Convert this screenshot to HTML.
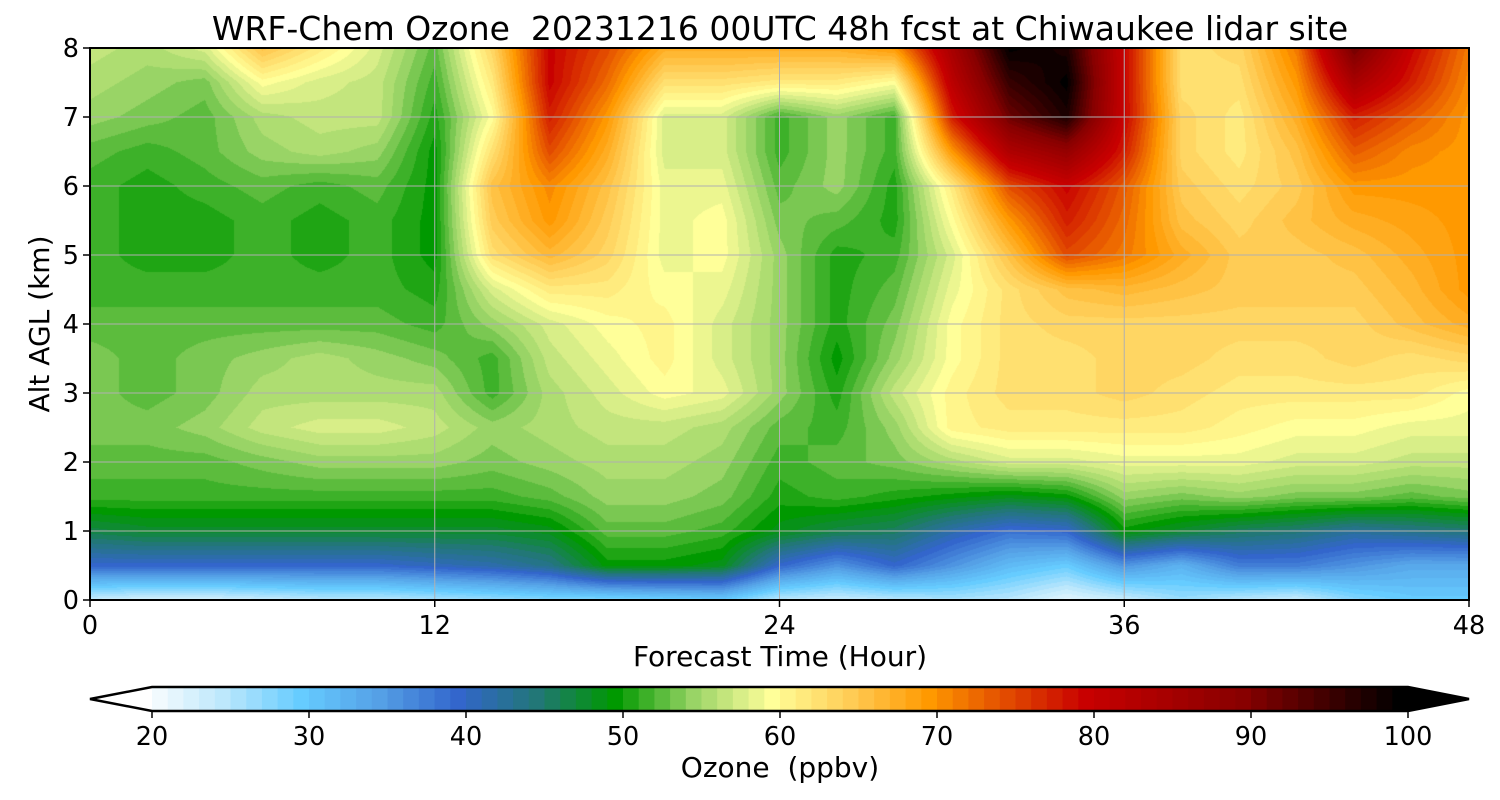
<!DOCTYPE html>
<html><head><meta charset="utf-8">
<style>
html,body{margin:0;padding:0;background:#fff;}
#wrap{position:relative;width:1500px;height:800px;overflow:hidden;font-family:"DejaVu Sans",sans-serif;}
#heat{position:absolute;left:90px;top:48px;}
#ov{position:absolute;left:0;top:0;}
text{font-family:"DejaVu Sans","Liberation Sans",sans-serif;fill:#000;white-space:pre;}
</style></head>
<body>
<div id="wrap">
<canvas id="heat" width="1379" height="552"></canvas>
<svg id="ov" width="1500" height="800">
<text x="780" y="40" text-anchor="middle" font-size="33" xml:space="preserve">WRF-Chem Ozone  20231216 00UTC 48h fcst at Chiwaukee lidar site</text>
<g id="grid"></g>
<rect x="90" y="48" width="1379" height="552" fill="none" stroke="#000" stroke-width="2"/>
<g id="xticks"></g>
<g id="yticks"></g>
<text x="780" y="666" text-anchor="middle" font-size="28">Forecast Time (Hour)</text>
<text transform="translate(49,324) rotate(-90)" text-anchor="middle" font-size="28">Alt AGL (km)</text>
<g id="cbar"></g>
<text x="780" y="777" text-anchor="middle" font-size="28" xml:space="preserve">Ozone  (ppbv)</text>
</svg>
</div>
<script>
const hours = [0,2,4,6,8,10,12,14,16,18,20,22,24,26,28,30,32,34,36,38,40,42,44,46,48];
const heights = [0,0.5,1,1.5,2,2.5,3,3.5,4,4.5,5,5.5,6,6.5,7,7.5,8];
const ozone = [
[24,23,23,24,25,25,26,27,28,28,29,30,25,24,25,26,25,22,24,27,25,24,28,30,30],
[40,40,40,40,40,40,41,42,44,50,50,49,40,36,40,36,32,30,36,33,38,38,36,34,34],
[47,48,48,48,48,48,48,48,49,53,53,52,49,47,46,42,39,40,50,48,46,45,43,44,45],
[52,52,52,52,52,52,52,52,53,55,55,54,51,52,51,50,49,50,55,54,55,54,54,53,54],
[53,53,53,54,55,55,55,54,55,56,56,55,52,53,54,56,58,58,59,59,59,58,58,57,57],
[54,54,55,57,58,58,57,55,56,57,57,56,53,52,55,61,62,62,62,62,61,60,60,59,59],
[54,53,54,56,56,56,56,52,56,58,60,59,55,51,57,61,63,63,64,63,62,62,62,62,60],
[54,53,54,55,56,55,54,52,57,59,61,58,55,50,55,60,63,63,64,64,63,63,64,63,64],
[53,53,53,53,53,53,52,55,58,60,61,58,55,51,54,60,63,64,64,64,64,64,64,66,68],
[52,52,52,52,52,52,51,58,62,62,60,59,55,51,53,59,63,66,67,66,65,65,65,67,70],
[52,51,51,52,51,52,50,63,67,64,59,60,55,51,52,58,66,75,72,68,65,65,66,68,70],
[52,51,51,52,51,52,50,65,70,65,59,60,54,53,51,60,70,78,73,66,64,66,68,69,70],
[52,51,52,53,52,53,50,66,71,66,59,59,53,55,51,62,75,80,74,65,63,65,70,70,70],
[53,52,53,55,56,55,50,63,75,68,58,58,52,55,52,70,84,88,78,64,62,66,74,71,70],
[55,54,53,56,57,57,51,60,78,70,58,58,52,55,52,78,92,98,80,64,62,68,78,74,70],
[56,55,54,60,58,57,52,62,80,73,63,63,62,62,60,82,96,100,80,63,63,70,85,78,71],
[57,56,58,66,62,58,53,64,80,75,68,68,68,68,70,85,100,98,80,63,64,72,92,80,72]
];
const xTickLabels = [0,12,24,36,48];
const yTickLabels = [0,1,2,3,4,5,6,7,8];
const cbarTicks = [20,30,40,50,60,70,80,90,100];
const cmapVals = [20,25,30,35,40,45,50,55,58,60,65,70,75,80,90,100];
const cmapCols = ['#ffffff','#bde8fc','#66ccff','#55a0e6','#3366cc','#227777','#009900','#99d466','#d8ee88','#ffff99','#ffcc55','#ff9900','#e24a00','#c80000','#880000','#000000'];

const X0=90,X1=1469,Y0=48,Y1=600;
const xs = h => X0+(h-0)/48*(X1-X0);
const ys = k => Y1-(k-0)/8*(Y1-Y0);
function hex(c){return [parseInt(c.slice(1,3),16),parseInt(c.slice(3,5),16),parseInt(c.slice(5,7),16)];}
const cmapRGB = cmapCols.map(hex);
function color(v){
  v=Math.round(v);
  if(v<=cmapVals[0]) return cmapRGB[0];
  for(let i=1;i<cmapVals.length;i++){
    if(v<=cmapVals[i]){const t=(v-cmapVals[i-1])/(cmapVals[i]-cmapVals[i-1]);const a=cmapRGB[i-1],b=cmapRGB[i];return [a[0]+(b[0]-a[0])*t,a[1]+(b[1]-a[1])*t,a[2]+(b[2]-a[2])*t];}
  }
  return cmapRGB[cmapRGB.length-1];
}
function interp(arr,v){
  if(v<=arr[0]) return [0,0];
  for(let i=1;i<arr.length;i++) if(v<=arr[i]) return [i-1,(v-arr[i-1])/(arr[i]-arr[i-1])];
  return [arr.length-2,1];
}
const cv=document.getElementById('heat'),ctx=cv.getContext('2d');
const W=cv.width,H=cv.height,img=ctx.createImageData(W,H);
for(let py=0;py<H;py++){
  const km=(H-py-0.5)/H*8; const [j,fy]=interp(heights,km);
  for(let px=0;px<W;px++){
    const hr=(px+0.5)/W*48; const [i,fx]=interp(hours,hr);
    const v=ozone[j][i]*(1-fx)*(1-fy)+ozone[j][i+1]*fx*(1-fy)+ozone[j+1][i]*(1-fx)*fy+ozone[j+1][i+1]*fx*fy;
    const c=color(v); const o=(py*W+px)*4;
    img.data[o]=c[0];img.data[o+1]=c[1];img.data[o+2]=c[2];img.data[o+3]=255;
  }
}
ctx.putImageData(img,0,0);
const NS='http://www.w3.org/2000/svg';
function mk(tag,attrs,parent){const e=document.createElementNS(NS,tag);for(const k in attrs)e.setAttribute(k,attrs[k]);parent.appendChild(e);return e;}
const grid=document.getElementById('grid'),xt=document.getElementById('xticks'),yt=document.getElementById('yticks');
xTickLabels.forEach(h=>{
  const x=xs(h);
  const g=mk('line',{x1:x,x2:x,y1:Y0,y2:Y1,stroke:'#b0b0b0','stroke-width':1},grid);
  
  
  const tk=mk('line',{x1:x,x2:x,y1:Y1,y2:Y1+7,stroke:'#000','stroke-width':1.5},xt);
  
  
  const t=mk('text',{x:x,y:Y1+34,'text-anchor':'middle','font-size':25.5},xt);t.textContent=h;
  
  
});
yTickLabels.forEach(k=>{
  const y=ys(k);
  const g=mk('line',{x1:X0,x2:X1,y1:y,y2:y,stroke:'#b0b0b0','stroke-width':1},grid);
  
  
  const tk=mk('line',{x1:X0-7,x2:X0,y1:y,y2:y,stroke:'#000','stroke-width':1.5},yt);
  
  
  const t=mk('text',{x:X0-11,y:y+9,'text-anchor':'end','font-size':25.5},yt);t.textContent=k;
  
  
});
const cb=document.getElementById('cbar');
const C0=152,C1=1408,CY0=687,CY1=711;
const cx=v=>C0+(v-20)/80*(C1-C0);
const lt=mk('polygon',{points:`${C0},${CY0} 90,${(CY0+CY1)/2} ${C0},${CY1}`,fill:'#fff'},cb);


const rt=mk('polygon',{points:`${C1},${CY0} 1469,${(CY0+CY1)/2} ${C1},${CY1}`,fill:'#000'},cb);


for(let v=20;v<100;v++){
  const c=color(v+0.5);
  const r=mk('rect',{x:cx(v),y:CY0,width:cx(v+1)-cx(v)+0.6,height:CY1-CY0,fill:`rgb(${c[0]|0},${c[1]|0},${c[2]|0})`},cb);
  
  
}
const ol=mk('polygon',{points:`90,${(CY0+CY1)/2} ${C0},${CY0} ${C1},${CY0} 1469,${(CY0+CY1)/2} ${C1},${CY1} ${C0},${CY1}`,fill:'none',stroke:'#000','stroke-width':2.5},cb);


cbarTicks.forEach(v=>{
  const x=cx(v);
  const tk=mk('line',{x1:x,x2:x,y1:CY1,y2:CY1+7,stroke:'#000','stroke-width':1.5},cb);
  
  
  const t=mk('text',{x:x,y:CY1+34,'text-anchor':'middle','font-size':25.5},cb);t.textContent=v;
  
  
});
</script>
</body></html>
